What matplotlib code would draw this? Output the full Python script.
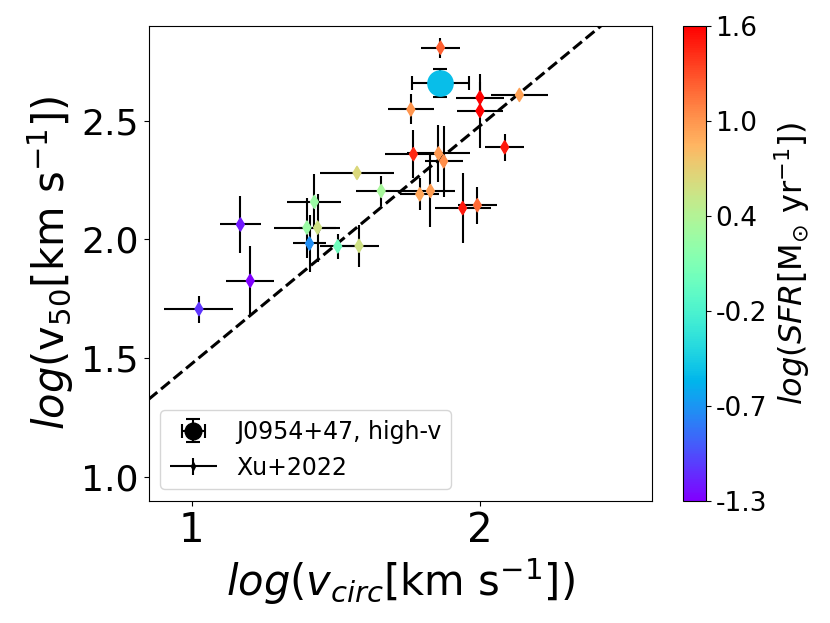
import numpy as np
import matplotlib.pyplot as plt
from matplotlib import cm, colors
from matplotlib.legend_handler import HandlerErrorbar

# Xu+2022 sample
log_vcirc = [1.025, 1.169, 1.203, 1.574, 1.658, 1.426, 1.400, 1.437, 1.409, 1.507, 1.581,
             1.864, 2.001, 2.001, 2.138, 1.761, 2.087, 1.770, 1.857, 1.875, 1.792, 1.829,
             1.941, 1.992]
log_v50 = [1.707, 2.063, 1.826, 2.280, 2.204, 2.158, 2.050, 2.050, 1.983, 1.971, 1.973,
           2.807, 2.597, 2.541, 2.608, 2.547, 2.388, 2.359, 2.362, 2.329, 2.190, 2.204,
           2.132, 2.144]
vcirc_err = [0.120, 0.070, 0.084, 0.127, 0.086, 0.094, 0.115, 0.065, 0.058, 0.060, 0.070,
             0.068, 0.084, 0.080, 0.100, 0.080, 0.068, 0.100, 0.108, 0.066, 0.067, 0.087,
             0.097, 0.068]
v50_err = [0.057, 0.120, 0.147, 0.025, 0.065, 0.116, 0.126, 0.143, 0.120, 0.053, 0.088,
           0.042, 0.064, 0.157, 0.020, 0.063, 0.057, 0.100, 0.120, 0.150, 0.067, 0.150,
           0.147, 0.078]
log_sfr = [-1.10, -1.20, -1.30, 0.67, 0.38, 0.30, 0.30, 0.60, -0.75, 0.05, 0.60,
           1.24, 1.60, 1.60, 0.96, 1.02, 1.50, 1.45, 1.00, 1.05, 0.95, 0.98,
           1.50, 1.20]

# J0954+47 high-v component
j_vcirc, j_v50 = 1.864, 2.66
j_vcirc_err, j_v50_err = 0.10, 0.059
j_sfr = -0.52

sfr_min, sfr_max = -1.3, 1.6
cbar_labels = ["-1.3", "-0.7", "-0.2", "0.4", "1.0", "1.6"]

fig = plt.figure(figsize=(8.3, 6.23), dpi=100)
ax = fig.add_axes([0.179, 0.196, 0.607, 0.763])
cax = fig.add_axes([0.8226, 0.196, 0.0277, 0.763])

norm = colors.Normalize(vmin=sfr_min, vmax=sfr_max)
cmap = plt.get_cmap("rainbow")

# one-to-one line shifted by log(3)
xx = np.array([0.85, 2.6])
ax.plot(xx, xx + np.log10(3), "k--", lw=2.2, zorder=1)

j_eb = ax.errorbar(j_vcirc, j_v50, xerr=j_vcirc_err, yerr=j_v50_err, fmt="o", color="k",
                   ms=12, capsize=5, elinewidth=1.5, capthick=1.5, zorder=2,
                   label="J0954+47, high-v")
ax.scatter(j_vcirc, j_v50, c=[j_sfr], cmap=cmap, norm=norm, s=330, zorder=3)

xu_eb = ax.errorbar(log_vcirc, log_v50, xerr=vcirc_err, yerr=v50_err, fmt="d", color="k",
                    ms=4, elinewidth=1.5, zorder=2, label="Xu+2022")
ax.scatter(log_vcirc, log_v50, c=log_sfr, cmap=cmap, norm=norm, marker="d", s=45,
           zorder=4)

ax.set_xlim(0.85, 2.6)
ax.set_ylim(0.9, 2.9)
ax.set_xticks([1, 2])
ax.set_yticks([1.0, 1.5, 2.0, 2.5])
ax.tick_params(axis="x", labelsize=29)
ax.tick_params(axis="y", labelsize=26)
ax.set_xlabel(r"$log(v_{circ}$[km s$^{-1}$])", fontsize=30)
ax.set_ylabel(r"$log($v$_{50}$[km s$^{-1}$])", fontsize=30)
ax.legend(loc="lower left", fontsize=17,
          handler_map={xu_eb: HandlerErrorbar(xerr_size=1.0, yerr_size=0.35)})

sm = cm.ScalarMappable(norm=norm, cmap=cmap)
cb = fig.colorbar(sm, cax=cax)
cb.set_ticks(np.linspace(sfr_min, sfr_max, 6))
cb.set_ticklabels(cbar_labels)
cb.ax.tick_params(labelsize=19)
cb.set_label(r"$log(SFR$[M$_{\odot}$ yr$^{-1}$])", fontsize=23)

fig.savefig("out.png", dpi=100)
